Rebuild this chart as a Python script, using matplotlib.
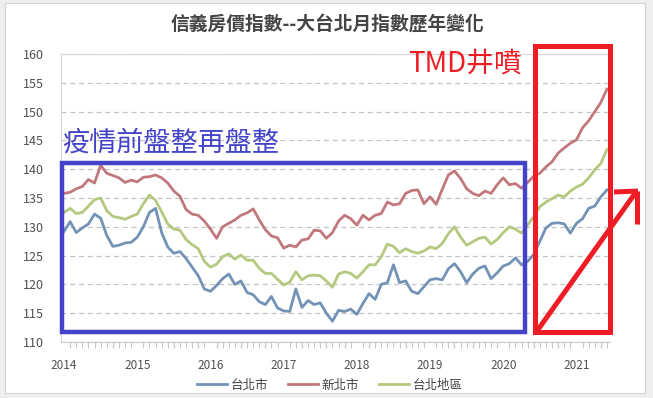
import matplotlib
matplotlib.use("Agg")
import matplotlib.pyplot as plt
from matplotlib.patches import Rectangle
from matplotlib.lines import Line2D

plt.rcParams['font.family'] = ['Noto Sans CJK TC', 'DejaVu Sans']

# monthly index, Jan 2014 .. Jun 2021
taipei = [129.2, 130.9, 129.0, 129.8, 130.5, 132.2, 131.5, 128.5, 126.6, 126.8,
          127.2, 127.3, 128.2, 130.0, 132.5, 133.2, 129.0, 126.5, 125.4, 125.7,
          124.5, 123.0, 121.5, 119.2, 118.8, 119.8, 121.0, 121.8, 120.0, 120.6,
          118.6, 118.2, 117.0, 116.5, 117.9, 115.9, 115.4, 115.3, 119.2, 116.0,
          117.2, 116.5, 116.8, 115.0, 113.6, 115.5, 115.3, 115.7, 114.8, 116.7,
          118.4, 117.4, 120.0, 120.3, 123.4, 120.3, 120.6, 118.8, 118.4, 119.6,
          120.8, 121.0, 120.8, 122.7, 123.6, 122.2, 120.3, 121.8, 122.8, 123.2,
          121.0, 122.0, 123.2, 123.6, 124.6, 123.4, 124.0, 125.2, 127.5, 129.8,
          130.6, 130.7, 130.5, 128.9, 130.6, 131.4, 133.2, 133.6, 135.2, 136.4]
new_taipei = [135.8, 136.0, 136.6, 137.0, 138.2, 137.6, 140.7, 139.3, 138.9, 138.5,
              137.7, 138.1, 137.8, 138.6, 138.7, 139.0, 138.5, 137.6, 136.2, 135.3,
              133.0, 132.2, 132.0, 131.0, 129.6, 128.0, 130.0, 130.6, 131.2, 132.0,
              132.4, 133.1, 131.2, 129.5, 128.4, 128.1, 126.3, 126.8, 126.5, 127.7,
              127.9, 129.4, 129.3, 128.0, 129.0, 131.0, 132.0, 131.4, 130.3, 132.0,
              131.2, 132.0, 132.3, 134.3, 133.8, 134.0, 135.8, 136.3, 136.4, 134.0,
              135.2, 133.9, 136.5, 139.0, 139.7, 138.4, 136.6, 135.8, 135.4, 136.2,
              135.8, 137.3, 138.5, 137.3, 137.5, 136.7, 137.7, 138.8, 139.3, 140.4,
              141.3, 142.8, 143.7, 144.5, 145.1, 147.2, 148.4, 150.0, 151.6, 153.9]
greater_taipei = [132.5, 133.2, 132.3, 132.5, 133.6, 134.7, 135.0, 132.8, 131.8, 131.6,
                  131.3, 131.8, 132.2, 134.0, 135.5, 134.6, 132.6, 130.5, 129.6, 129.4,
                  127.8, 126.9, 126.2, 124.0, 123.0, 123.5, 124.8, 125.3, 124.4, 125.1,
                  124.2, 124.2, 122.8, 121.9, 121.9, 120.9, 119.9, 120.4, 122.2, 120.8,
                  121.5, 121.6, 121.5, 120.6, 119.5, 121.8, 122.2, 121.9, 121.1, 122.2,
                  123.4, 123.4, 124.8, 127.0, 126.6, 125.5, 126.2, 125.7, 125.4, 125.8,
                  126.5, 126.2, 127.1, 128.8, 130.0, 128.2, 126.8, 127.4, 128.0, 128.2,
                  127.0, 127.8, 129.0, 130.0, 129.6, 128.9, 130.3, 131.8, 133.5, 134.3,
                  134.9, 135.5, 135.2, 136.2, 136.9, 137.4, 138.5, 139.9, 141.0, 143.4]
years = ['2014', '2015', '2016', '2017', '2018', '2019', '2020', '2021']
series_names = ['台北市', '新北市', '台北地區']

W, H = 653, 398
def px(x, y):
    # pixel position -> figure fraction
    return x / W, 1 - y / H

fig = plt.figure(figsize=(W / 100, H / 100), dpi=100, facecolor='#efefef')
fig.add_artist(Rectangle(px(5, 393), 640 / W, 390 / H, transform=fig.transFigure,
                         facecolor='white', edgecolor='#d4d4d4', lw=0.8, zorder=0))

ax = fig.add_axes([61 / W, 1 - 342 / H, 549 / W, 288 / H])
ax.set_facecolor('white')
months = list(range(len(taipei)))
colors = ['#7393b6', '#c0787c', '#b5c87f']
for vals, name, c in zip([taipei, new_taipei, greater_taipei], series_names, colors):
    ax.plot(months, vals, color=c, lw=2.0, label=name, solid_joinstyle='round')

ax.set_xlim(-0.5, len(taipei) - 0.5)
ax.set_ylim(110, 160)
ax.set_yticks(range(110, 161, 5))
ax.set_xticks([12 * i for i in range(len(years))])
ax.set_xticklabels(years)
ax.set_xticks(months, minor=True)
ax.tick_params(axis='y', length=0, labelsize=9, labelcolor='#505050', pad=12)
ax.tick_params(axis='x', which='major', length=0, labelsize=8.5, labelcolor='#505050', pad=12)
ax.tick_params(axis='x', which='minor', length=4, color='#c8c8c8', width=0.8)
ax.grid(axis='y', ls=(0, (4, 3)), color='#c4c4c4', lw=0.9)
for s in ['left', 'top']:
    ax.spines[s].set_color('#d8d8d8')
ax.spines['right'].set_visible(False)
ax.spines['bottom'].set_color('#c8c8c8')

fig.text(*px(327, 25), '信義房價指數--大台北月指數歷年變化', ha='center', va='center',
         fontsize=13.5, fontweight='bold', color='#444444')

fig.legend(loc='center', bbox_to_anchor=px(330, 385), ncol=3, frameon=False,
           fontsize=9, handlelength=2.4, columnspacing=1.6, handletextpad=0.3,
           labelcolor='#404040')

# annotations drawn over the chart
blue = '#4343c9'
red = '#ee1d25'
fig.add_artist(Rectangle(px(62, 332), 463 / W, 169 / H, transform=fig.transFigure,
                         fill=False, edgecolor=blue, lw=3.2, zorder=5))
fig.add_artist(Rectangle(px(535, 332), 75 / W, 286 / H, transform=fig.transFigure,
                         fill=False, edgecolor=red, lw=3.6, zorder=5))
for (x0, y0), (x1, y1) in [((537, 331), (636, 192)), ((614, 192), (638, 191)),
                           ((637, 191), (637, 224))]:
    a, b = px(x0, y0), px(x1, y1)
    fig.add_artist(Line2D([a[0], b[0]], [a[1], b[1]], transform=fig.transFigure,
                          color=red, lw=3.6, zorder=5, solid_capstyle='butt'))
fig.text(*px(62, 143), '疫情前盤整再盤整', ha='left', va='center', fontsize=19.5,
         fontweight='medium', color=blue)
fig.text(*px(408, 64), 'TMD井噴', ha='left', va='center', fontsize=20,
         fontweight='medium', color=red)

fig.savefig('out.png', dpi=100, facecolor=fig.get_facecolor())
